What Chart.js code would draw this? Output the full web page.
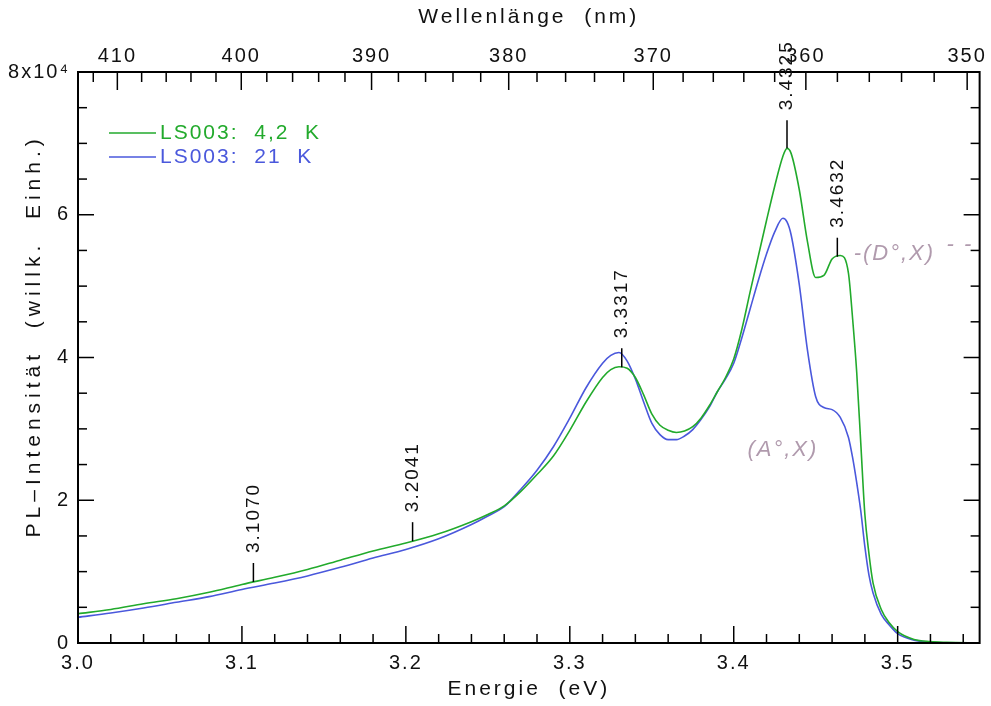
<!DOCTYPE html>
<html>
<head>
<meta charset="utf-8">
<script src="https://cdn.jsdelivr.net/npm/chart.js@4.4.1/dist/chart.umd.min.js"></script>
<style>
  html, body { margin: 0; padding: 0; background: #fff; }
</style>
</head>
<body>
<canvas id="chart" width="991" height="706"></canvas>
<script>
// ====== DATEN ======
// Energie in eV, Intensitaet in Einheiten von 10^4
const energie = [
  3.00, 3.02, 3.04, 3.06, 3.08, 3.10, 3.12, 3.14, 3.16, 3.18,
  3.20, 3.22, 3.24, 3.25, 3.26, 3.27, 3.28, 3.29, 3.30, 3.31,
  3.32, 3.325, 3.33, 3.335, 3.34, 3.345, 3.35, 3.355, 3.36, 3.365,
  3.37, 3.375, 3.38, 3.385, 3.39, 3.395, 3.40, 3.405, 3.41, 3.415,
  3.42, 3.425, 3.43, 3.4325, 3.435, 3.44, 3.445, 3.45, 3.455, 3.46,
  3.465, 3.47, 3.4725, 3.475, 3.4775, 3.48, 3.4825, 3.485, 3.49, 3.495,
  3.50, 3.51, 3.52, 3.53, 3.55
];
const ls003_4K = [
  0.41, 0.47, 0.55, 0.62, 0.71, 0.82, 0.92, 1.03, 1.16, 1.29,
  1.40, 1.53, 1.70, 1.80, 1.92, 2.12, 2.36, 2.62, 2.98, 3.38,
  3.72, 3.83, 3.87, 3.85, 3.72, 3.48, 3.21, 3.05, 2.98, 2.95,
  2.97, 3.03, 3.15, 3.32, 3.52, 3.72, 3.98, 4.40, 4.92, 5.42,
  5.92, 6.40, 6.82, 6.93, 6.86, 6.35, 5.62, 5.12, 5.15, 5.38,
  5.43, 5.18, 4.55, 3.80, 2.80, 1.80, 1.25, 0.84, 0.47, 0.28,
  0.16, 0.05, 0.02, 0.01, 0.00
];
const ls003_21K = [
  0.36, 0.42, 0.49, 0.57, 0.65, 0.75, 0.84, 0.94, 1.06, 1.19,
  1.31, 1.46, 1.66, 1.78, 1.91, 2.15, 2.42, 2.75, 3.15, 3.58,
  3.92, 4.03, 4.07, 3.95, 3.70, 3.38, 3.08, 2.92, 2.85, 2.85,
  2.90, 2.99, 3.13, 3.30, 3.52, 3.70, 3.92, 4.28, 4.68, 5.08,
  5.45, 5.76, 5.95, 5.90, 5.72, 5.02, 4.10, 3.45, 3.30, 3.27,
  3.16, 2.88, 2.60, 2.25, 1.85, 1.35, 0.95, 0.70, 0.40, 0.25,
  0.13, 0.04, 0.01, 0.00, 0.00
];

const energieTicks = [3.0, 3.1, 3.2, 3.3, 3.4, 3.5];
const wellenTicks = [410, 400, 390, 380, 370, 360, 350];
const intensTicks = [0, 2, 4, 6, 8];

const peakEnergien = [3.1070, 3.2041, 3.3317, 3.4325, 3.4632];
const peakTexte = ["3.1070", "3.2041", "3.3317", "3.4325", "3.4632"];

// handschriftliche Notizen
const notizTexte = ["-(D°,X)", "(A°,X)", "- -"];
const notizEnergien = [3.498, 3.430, 3.538];
const notizWerte = [5.45, 2.70, 5.58];

const HC = 1239.84; // eV*nm
const SCHRIFT = "'Liberation Sans', Arial, sans-serif";
const GRUEN = "#22aa2c";
const BLAU = "#4a58dc";

// ====== HILFSFUNKTIONEN ======
function gruenBei(e) {
  for (let i = 1; i < energie.length; i++) {
    if (e <= energie[i]) {
      const t = (e - energie[i - 1]) / (energie[i] - energie[i - 1]);
      return ls003_4K[i - 1] + t * (ls003_4K[i] - ls003_4K[i - 1]);
    }
  }
  return 0;
}

function strich(ctx, x1, y1, x2, y2) {
  ctx.beginPath();
  ctx.moveTo(x1, y1);
  ctx.lineTo(x2, y2);
  ctx.stroke();
}

// ====== PLUGIN: Rahmen, Ticks, Peaks, Legende ======
const rahmenPlugin = {
  id: "rahmen",
  beforeLayout(chart) {
    chart.ctx.letterSpacing = "2px";
  },
  afterLayout(chart) {
    // breitere Sperrung fuer die Achsentitel
    Object.values(chart.scales).forEach((s) => {
      if (s._titelGepatcht) return;
      const orig = s.drawTitle.bind(s);
      s.drawTitle = function () {
        const alt = this.ctx.letterSpacing;
        this.ctx.letterSpacing = this.id === "y" ? "5px" : "3px";
        orig();
        this.ctx.letterSpacing = alt;
      };
      s._titelGepatcht = true;
    });
  },
  afterDraw(chart) {
    const { ctx, chartArea: a, scales } = chart;
    const x = scales.x;
    const y = scales.y;
    ctx.save();
    ctx.strokeStyle = "#000";

    // Rahmen
    ctx.lineWidth = 2;
    ctx.strokeRect(a.left, a.top, a.right - a.left, a.bottom - a.top);

    // Energie-Ticks unten (alle 0.02 eV)
    ctx.lineWidth = 1.5;
    for (let i = 0; i <= 27; i++) {
      const px = x.getPixelForValue(3.0 + i * 0.02);
      strich(ctx, px, a.bottom, px, a.bottom - (i % 5 === 0 ? 17 : 9));
    }
    // Wellenlaengen-Ticks oben (alle 2 nm)
    for (let w = 412; w >= 350; w -= 2) {
      const px = x.getPixelForValue(HC / w);
      strich(ctx, px, a.top, px, a.top + (w % 10 === 0 ? 18 : 10));
    }
    // Intensitaets-Ticks links/rechts (alle 0.5)
    for (let i = 0; i <= 16; i++) {
      const py = y.getPixelForValue(i * 0.5);
      const len = i % 4 === 0 ? 16 : 9;
      strich(ctx, a.left, py, a.left + len, py);
      strich(ctx, a.right, py, a.right - len, py);
    }

    // Peak-Markierungen
    ctx.lineWidth = 1.5;
    ctx.fillStyle = "#111";
    ctx.font = "19px " + SCHRIFT;
    ctx.textAlign = "left";
    ctx.textBaseline = "middle";
    peakEnergien.forEach((e, i) => {
      const px = x.getPixelForValue(e);
      const py = y.getPixelForValue(gruenBei(e));
      const len = i === 3 ? 28 : 19;
      strich(ctx, px, py, px, py - len);
      ctx.save();
      ctx.translate(px, py - len - 10);
      ctx.rotate(-Math.PI / 2);
      ctx.fillText(peakTexte[i], 0, 0);
      ctx.restore();
    });

    // Legende
    ctx.font = "21px " + SCHRIFT;
    ctx.textAlign = "left";
    ctx.textBaseline = "middle";
    chart.data.datasets.forEach((ds, i) => {
      const ly = 133 + i * 24;
      ctx.strokeStyle = ds.borderColor;
      ctx.lineWidth = 1.5;
      strich(ctx, 109, ly, 156, ly);
      ctx.fillStyle = ds.borderColor;
      ctx.fillText(ds.label, 160, ly);
    });

    // Notizen
    ctx.font = "italic 22px " + SCHRIFT;
    ctx.fillStyle = "rgba(150, 120, 145, 0.75)";
    ctx.textAlign = "center";
    notizTexte.forEach((t, i) => {
      ctx.fillText(t, x.getPixelForValue(notizEnergien[i]), y.getPixelForValue(notizWerte[i]));
    });
    ctx.restore();
  },
};

// ====== DIAGRAMM ======
const tickFont = { size: 20, family: SCHRIFT };
const titelFont = { size: 21, family: SCHRIFT };

new Chart(document.getElementById("chart"), {
  type: "line",
  data: {
    datasets: [
      {
        label: "LS003:  4,2  K",
        data: energie.map((e, i) => ({ x: e, y: ls003_4K[i] })),
        borderColor: GRUEN,
        borderWidth: 1.6,
        pointRadius: 0,
        cubicInterpolationMode: "monotone",
        xAxisID: "x",
        yAxisID: "y",
      },
      {
        label: "LS003:  21  K",
        data: energie.map((e, i) => ({ x: e, y: ls003_21K[i] })),
        borderColor: BLAU,
        borderWidth: 1.6,
        pointRadius: 0,
        cubicInterpolationMode: "monotone",
        xAxisID: "x",
        yAxisID: "y",
      },
    ],
  },
  options: {
    responsive: false,
    animation: false,
    devicePixelRatio: 1,
    layout: { padding: { left: 0, right: 11, top: 0, bottom: 0 } },
    plugins: { legend: { display: false }, tooltip: { enabled: false } },
    scales: {
      x: {
        type: "linear",
        position: "bottom",
        min: 3.0,
        max: 3.55,
        afterBuildTicks: (s) => { s.ticks = energieTicks.map((v) => ({ value: v })); },
        afterFit: (s) => { s.height = 63; },
        grid: { display: false, drawTicks: false },
        border: { display: false },
        ticks: {
          color: "#111", font: tickFont, padding: 8, autoSkip: false, maxRotation: 0,
          callback: (v) => v.toFixed(1),
        },
        title: {
          display: true, text: "Energie  (eV)", color: "#111", font: titelFont,
          padding: { top: 0, bottom: 4 },
        },
      },
      x2: {
        type: "linear",
        position: "top",
        min: 3.0,
        max: 3.55,
        afterBuildTicks: (s) => { s.ticks = wellenTicks.map((w) => ({ value: HC / w })); },
        afterFit: (s) => { s.height = 72; },
        grid: { display: false, drawTicks: false },
        border: { display: false },
        ticks: {
          color: "#111", font: tickFont, padding: 4, autoSkip: false, maxRotation: 0,
          callback: (v) => String(Math.round(HC / v)),
        },
        title: {
          display: true, text: "Wellenlänge  (nm)", color: "#111", font: titelFont,
          padding: { top: 5, bottom: 0 },
        },
      },
      y: {
        type: "linear",
        position: "left",
        min: 0,
        max: 8,
        afterBuildTicks: (s) => { s.ticks = intensTicks.map((v) => ({ value: v })); },
        afterFit: (s) => { s.width = 78; },
        grid: { display: false, drawTicks: false },
        border: { display: false },
        ticks: {
          color: "#111", font: tickFont, padding: 8,
          callback: (v) => (v === 8 ? "8x10⁴" : String(v)),
        },
        title: {
          display: true, text: "    PL–Intensität  (willk.  Einh.)", color: "#111", font: titelFont,
          padding: { top: 22, bottom: 0 },
        },
      },
    },
  },
  plugins: [rahmenPlugin],
});
</script>
</body>
</html>
